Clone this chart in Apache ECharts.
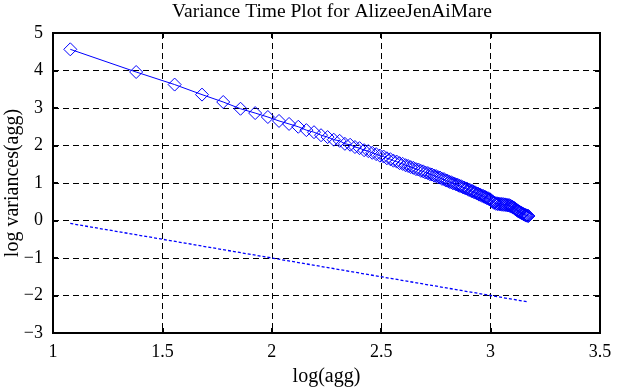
<!DOCTYPE html>
<html>
<head>
<meta charset="utf-8">
<script src="https://cdn.jsdelivr.net/npm/echarts@6/dist/echarts.min.js"></script>
<style>html,body{margin:0;padding:0;background:#fff}#c{width:621px;height:388px}</style>
</head>
<body>
<div id="c"></div>
<script>
var titleText = 'Variance Time Plot for AlizeeJenAiMare';
var xName = 'log(agg)';
var yName = 'log variances(agg)';

var logAgg = [1.079, 1.380, 1.556, 1.681, 1.778, 1.857, 1.924, 1.982, 2.033, 2.079,
2.121, 2.158, 2.193, 2.225, 2.255, 2.283, 2.310, 2.334, 2.358, 2.380,
2.401, 2.422, 2.441, 2.459, 2.477, 2.494, 2.511, 2.526, 2.542, 2.556,
2.571, 2.584, 2.598, 2.611, 2.623, 2.635, 2.647, 2.659, 2.670, 2.681,
2.692, 2.702, 2.713, 2.723, 2.732, 2.742, 2.751, 2.760, 2.769, 2.778,
2.787, 2.795, 2.803, 2.812, 2.820, 2.827, 2.835, 2.843, 2.850, 2.857,
2.865, 2.872, 2.879, 2.885, 2.892, 2.899, 2.905, 2.912, 2.918, 2.924,
2.930, 2.937, 2.943, 2.948, 2.954, 2.960, 2.966, 2.971, 2.977, 2.982,
2.988, 2.993, 2.998, 3.003, 3.009, 3.014, 3.019, 3.024, 3.029, 3.033,
3.038, 3.043, 3.048, 3.052, 3.057, 3.061, 3.066, 3.070, 3.075, 3.079,
3.084, 3.088, 3.092, 3.096, 3.100, 3.104, 3.109, 3.113, 3.117, 3.121,
3.125, 3.128, 3.132, 3.136, 3.140, 3.144, 3.147, 3.151, 3.155, 3.158,
3.162, 3.165, 3.169, 3.173];

var logVar = [4.565, 3.96, 3.625, 3.357, 3.16, 2.98, 2.865, 2.76, 2.655, 2.575,
2.50, 2.41, 2.355, 2.275, 2.225, 2.155, 2.125, 2.045, 2.02, 1.96,
1.93, 1.875, 1.85, 1.805, 1.77, 1.73, 1.705, 1.66, 1.635, 1.595,
1.57, 1.53, 1.51, 1.475, 1.455, 1.425, 1.405, 1.37, 1.36, 1.325,
1.31, 1.28, 1.265, 1.235, 1.225, 1.195, 1.185, 1.155, 1.145, 1.11,
1.105, 1.07, 1.06, 1.03, 1.02, 0.995, 0.985, 0.96, 0.95, 0.925,
0.915, 0.89, 0.88, 0.855, 0.85, 0.82, 0.815, 0.785, 0.785, 0.755,
0.75, 0.72, 0.715, 0.69, 0.685, 0.66, 0.655, 0.63, 0.625, 0.60,
0.595, 0.57, 0.565, 0.53, 0.51, 0.475, 0.475, 0.445, 0.46, 0.435,
0.45, 0.43, 0.445, 0.42, 0.44, 0.415, 0.43, 0.41, 0.42, 0.40,
0.415, 0.39, 0.39, 0.37, 0.365, 0.345, 0.33, 0.305, 0.295, 0.27,
0.26, 0.24, 0.235, 0.215, 0.205, 0.19, 0.185, 0.165, 0.16, 0.145,
0.14, 0.13, 0.125, 0.12];

var refX = [1.079, 3.173];
var refY = [-0.079, -2.173];

var xMin = 1, xMax = 3.5, xStep = 0.5;
var yMin = -3, yMax = 5, yStep = 1;

function zip(a, b) { return a.map(function (v, i) { return [v, b[i]]; }); }

var FONT = "'Liberation Serif', 'DejaVu Serif', serif";
var chart = echarts.init(document.getElementById('c'), null, { renderer: 'canvas' });
function fmt(v) { return String(v).replace('-', '\u2212'); }

var gridLine = { show: true, lineStyle: { color: '#000', width: 1, type: [6, 4] } };
chart.setOption({
  animation: false,
  backgroundColor: '#fff',
  title: {
    text: titleText, left: 327, top: -3, textAlign: 'center',
    textStyle: { fontFamily: FONT, fontSize: 19.5, fontWeight: 'normal', color: '#000' }
  },
  grid: { left: 53, right: 21, top: 33, bottom: 55, show: true, borderColor: '#000', borderWidth: 2, backgroundColor: 'transparent', outerBoundsMode: 'none', containLabel: false },
  xAxis: [{
    type: 'value', min: xMin, max: xMax, interval: xStep,
    name: xName, nameLocation: 'middle', nameGap: 34, nameMoveOverlap: false,
    nameTextStyle: { fontFamily: FONT, fontSize: 20, color: '#000' },
    axisLine: { show: true, onZero: false, lineStyle: { color: '#000', width: 2 } },
    axisTick: { show: true, inside: true, length: 5, lineStyle: { color: '#000', width: 2 } },
    axisLabel: { fontFamily: FONT, fontSize: 18, color: '#000', margin: 10, formatter: fmt },
    splitLine: gridLine
  }, {
    type: 'value', min: xMin, max: xMax, interval: xStep, position: 'top',
    axisLine: { show: true, onZero: false, lineStyle: { color: '#000', width: 2 } },
    axisTick: { show: true, inside: true, length: 5, lineStyle: { color: '#000', width: 2 } },
    axisLabel: { show: false }, splitLine: { show: false }
  }],
  yAxis: [{
    type: 'value', min: yMin, max: yMax, interval: yStep,
    name: yName, nameLocation: 'middle', nameGap: 30, nameRotate: 90, nameMoveOverlap: false,
    nameTextStyle: { fontFamily: FONT, fontSize: 20, color: '#000' },
    axisLine: { show: true, onZero: false, lineStyle: { color: '#000', width: 2 } },
    axisTick: { show: true, inside: true, length: 5, lineStyle: { color: '#000', width: 2 } },
    axisLabel: { fontFamily: FONT, fontSize: 18, color: '#000', margin: 10, formatter: fmt },
    splitLine: gridLine
  }, {
    type: 'value', min: yMin, max: yMax, interval: yStep, position: 'right',
    axisLine: { show: true, onZero: false, lineStyle: { color: '#000', width: 2 } },
    axisTick: { show: true, inside: true, length: 5, lineStyle: { color: '#000', width: 2 } },
    axisLabel: { show: false }, splitLine: { show: false }
  }],
  series: [{
    type: 'line', data: zip(logAgg, logVar),
    symbol: 'diamond', symbolSize: 13, showAllSymbol: true,
    lineStyle: { color: '#0000ff', width: 1 },
    itemStyle: { color: 'rgba(0,0,0,0)', borderColor: '#0000ff', borderWidth: 1 },
    z: 5
  }, {
    type: 'line', data: zip(refX, refY), symbol: 'none',
    lineStyle: { color: '#0000ff', width: 1.3, type: [3, 2] },
    z: 4
  }]
});
</script>
</body>
</html>
